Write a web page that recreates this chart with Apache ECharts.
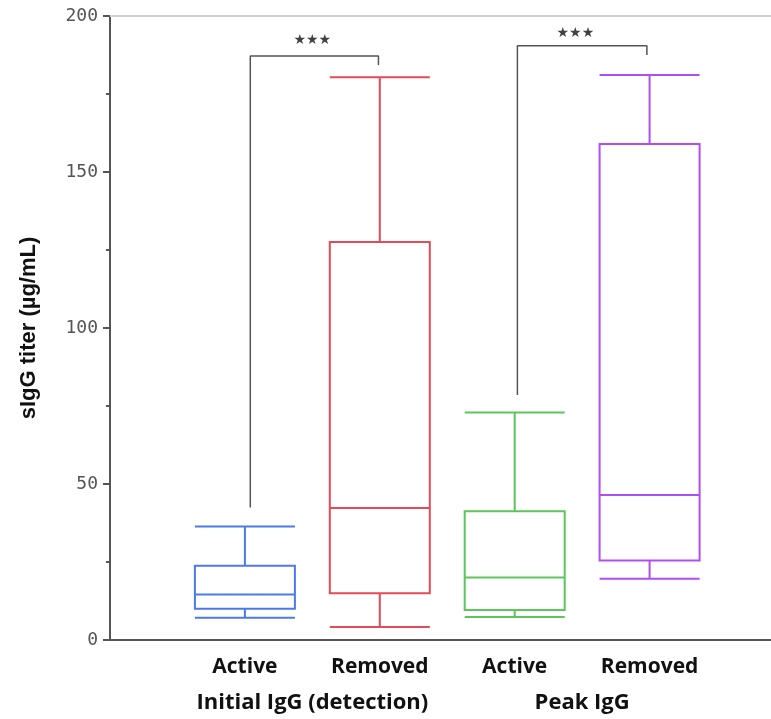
<!DOCTYPE html>
<html>
<head>
<meta charset="utf-8">
<script src="https://cdn.jsdelivr.net/npm/echarts@6/dist/echarts.min.js"></script>
<style>
  html, body { margin: 0; padding: 0; background: #fff; }
  #chart { width: 771px; height: 719px; }
</style>
</head>
<body>
<div id="chart"></div>
<script>
// categories (x position -> label)
const groupNames = ['Active', 'Removed', 'Active', 'Removed'];
const groupPos = [1, 2, 3, 4];
const panelNames = ['Initial IgG (detection)', 'Peak IgG'];
const panelPos = [3, 7]; // on the doubled-scale helper axis
const boxColors = ['#4a7bea', '#e34a5a', '#5cc65c', '#b14df5'];

// [min, Q1, median, Q3, max]
const initialActive = [7.1, 10.0, 14.6, 23.8, 36.4];
const initialRemoved = [4.2, 15.0, 42.3, 127.6, 180.4];
const peakActive = [7.4, 9.6, 20.0, 41.3, 72.9];
const peakRemoved = [19.6, 25.5, 46.5, 159.0, 181.1];
const boxValues = [initialActive, initialRemoved, peakActive, peakRemoved];

// significance brackets
const bracket1 = [[1.04, 42.5], [1.04, 187.2], [1.99, 187.2], [1.99, 184.3]];
const bracket2 = [[3.02, 78.5], [3.02, 190.5], [3.98, 190.5], [3.98, 187.5]];
const starLabels = [[1.5, 192.3], [3.45, 194.3]];

const chart = echarts.init(document.getElementById('chart'));

const boxData = boxValues.map((v, i) => ({
  value: [groupPos[i]].concat(v),
  itemStyle: { color: 'transparent', borderColor: boxColors[i], borderWidth: 2 }
}));

const labelFont = { fontFamily: 'Open Sans', fontWeight: 'bold', fontSize: 21, color: '#111' };

const option = {
  animation: false,
  backgroundColor: '#fff',
  grid: { left: 110, right: 0, top: 16, bottom: 79 },
  xAxis: [
    {
      type: 'value', min: 0, max: 4.9, interval: 1,
      axisLine: { show: true, onZero: false, lineStyle: { color: '#555', width: 2 } },
      axisTick: { show: false },
      splitLine: { show: false },
      axisLabel: Object.assign({
        margin: 17, showMaxLabel: false,
        formatter: v => { const i = groupPos.indexOf(v); return i >= 0 ? groupNames[i] : ''; }
      }, labelFont)
    },
    {
      type: 'value', min: 0, max: 9.8, interval: 1, position: 'bottom',
      axisLine: { show: false }, axisTick: { show: false }, splitLine: { show: false },
      axisLabel: Object.assign({
        margin: 52, showMaxLabel: false,
        formatter: v => { const i = panelPos.indexOf(v); return i >= 0 ? panelNames[i] : ''; }
      }, labelFont, { fontSize: 22 })
    },
    {
      type: 'value', min: 0, max: 4.9, position: 'top',
      axisLine: { show: true, lineStyle: { color: '#cfcfcf', width: 2 } },
      axisTick: { show: false }, axisLabel: { show: false }, splitLine: { show: false }
    }
  ],
  yAxis: {
    type: 'value', min: 0, max: 200, interval: 50,
    name: 'sIgG titer (µg/mL)', nameLocation: 'middle', nameGap: 70,
    nameTextStyle: { fontFamily: 'Liberation Sans', fontWeight: 'bold', fontSize: 22, color: '#111' },
    axisLine: { show: true, lineStyle: { color: '#555', width: 2 } },
    axisTick: { show: true, inside: false, length: 7, lineStyle: { color: '#555', width: 2 } },
    minorTick: { show: true, splitNumber: 2, length: 4, lineStyle: { color: '#555', width: 2 } },
    splitLine: { show: false },
    axisLabel: { margin: 12, fontFamily: 'DejaVu Sans Mono', fontSize: 18, color: '#555' }
  },
  series: [
    {
      type: 'boxplot',
      xAxisIndex: 0,
      encode: { x: 0, y: [1, 2, 3, 4, 5] },
      boxWidth: [100, 100],
      data: boxData
    },
    {
      type: 'line', xAxisIndex: 0, data: bracket1, symbol: 'none',
      lineStyle: { color: '#555', width: 1.5 }
    },
    {
      type: 'line', xAxisIndex: 0, data: bracket2, symbol: 'none',
      lineStyle: { color: '#555', width: 1.5 }
    },
    {
      type: 'scatter', xAxisIndex: 0, data: starLabels, symbolSize: 0,
      label: {
        show: true, position: 'inside', formatter: '★★★',
        fontFamily: 'DejaVu Sans', fontSize: 14, color: '#111'
      }
    }
  ]
};

chart.setOption(option);
</script>
</body>
</html>
